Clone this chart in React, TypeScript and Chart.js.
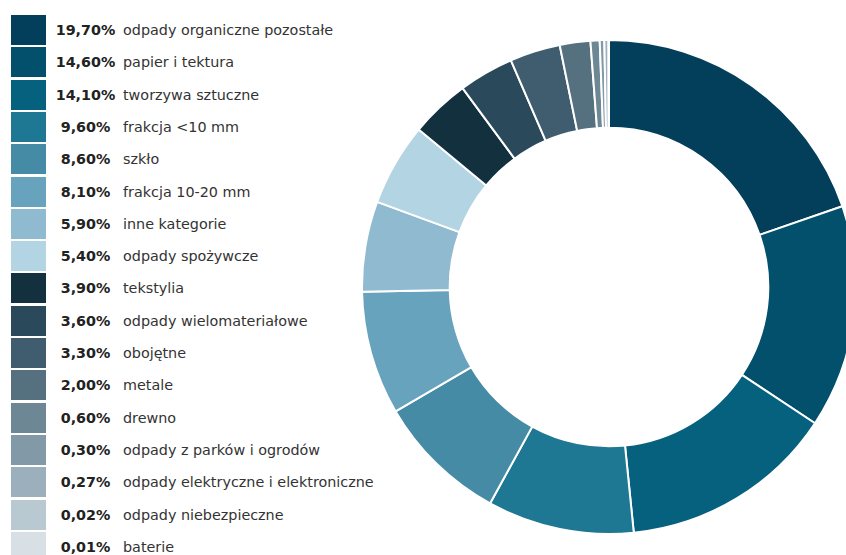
import React, { useEffect, useRef } from "react";
import { Chart, registerables } from "chart.js";

Chart.register(...registerables);

const categories = [
  "odpady organiczne pozostałe",
  "papier i tektura",
  "tworzywa sztuczne",
  "frakcja <10 mm",
  "szkło",
  "frakcja 10-20 mm",
  "inne kategorie",
  "odpady spożywcze",
  "tekstylia",
  "odpady wielomateriałowe",
  "obojętne",
  "metale",
  "drewno",
  "odpady z parków i ogrodów",
  "odpady elektryczne i elektroniczne",
  "odpady niebezpieczne",
  "baterie",
];

const values = [19.7, 14.6, 14.1, 9.6, 8.6, 8.1, 5.9, 5.4, 3.9, 3.6, 3.3, 2.0, 0.6, 0.3, 0.27, 0.02, 0.01];

const colors = [
  "#033f5a",
  "#02506b",
  "#06617e",
  "#1f7893",
  "#468ba5",
  "#68a3bd",
  "#8fbad0",
  "#b3d4e3",
  "#13303f",
  "#2a4a5b",
  "#3f5d6e",
  "#55717f",
  "#6d8794",
  "#8299a7",
  "#9cafbc",
  "#b9c9d2",
  "#d8e0e6",
];

const fmt = (v: number) => v.toFixed(2).replace(".", ",") + "%";

export default function App() {
  const ref = useRef<HTMLCanvasElement | null>(null);

  useEffect(() => {
    if (!ref.current) return;
    const chart = new Chart(ref.current, {
      type: "doughnut",
      data: {
        labels: categories,
        datasets: [
          {
            data: values,
            backgroundColor: colors,
            borderColor: "#ffffff",
            borderWidth: 2,
          },
        ],
      },
      options: {
        animation: false,
        responsive: true,
        maintainAspectRatio: false,
        cutout: "64.5%",
        layout: { padding: 0 },
        plugins: {
          legend: { display: false },
          tooltip: { enabled: false },
        },
      },
    });
    return () => chart.destroy();
  }, []);

  return (
    <div
      style={{
        position: "fixed",
        left: 0,
        top: 0,
        width: 846,
        height: 555,
        background: "#fff",
        overflow: "hidden",
        fontFamily: "'DejaVu Sans', sans-serif",
      }}
    >
      {categories.map((c, i) => (
        <div
          key={c}
          style={{
            position: "absolute",
            left: 0,
            top: 15 + i * 32.3,
            height: 30,
            width: 400,
          }}
        >
          <div
            style={{
              position: "absolute",
              left: 11,
              top: 0,
              width: 35,
              height: 30,
              background: colors[i],
            }}
          />
          <div
            style={{
              position: "absolute",
              left: 51,
              width: 69,
              top: 0,
              height: 30,
              lineHeight: "30px",
              textAlign: "center",
              fontWeight: "bold",
              fontSize: 14.3,
              color: "#222",
            }}
          >
            {fmt(values[i])}
          </div>
          <div
            style={{
              position: "absolute",
              left: 123,
              top: 0,
              height: 30,
              lineHeight: "30px",
              fontSize: 14.35,
              color: "#333",
              whiteSpace: "nowrap",
            }}
          >
            {c}
          </div>
        </div>
      ))}
      <div
        style={{
          position: "absolute",
          left: 361,
          top: 39,
          width: 496,
          height: 496,
        }}
      >
        <canvas ref={ref} />
      </div>
    </div>
  );
}
